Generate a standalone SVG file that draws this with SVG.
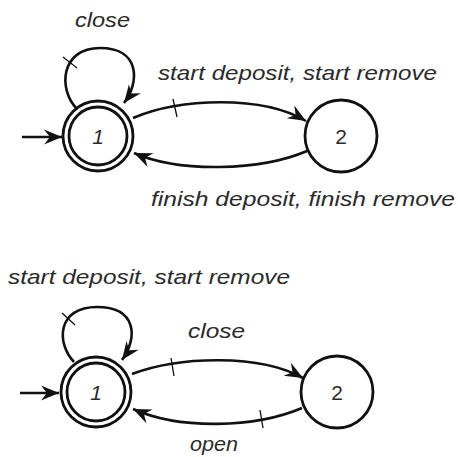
<svg xmlns="http://www.w3.org/2000/svg" width="458" height="457" viewBox="0 0 458 457">
  <style>
    .state { fill: #ffffff; stroke: #111111; stroke-width: 2.8; }
    .edge { fill: none; stroke: #111111; stroke-width: 2.6; }
    .tick { fill: none; stroke: #111111; stroke-width: 1.3; }
    .lbl { font-family: "Liberation Sans", Arial, sans-serif; font-style: italic; font-size: 21px; fill: #2a2a2a; }
    .num { font-family: "Liberation Sans", Arial, sans-serif; font-size: 21px; fill: #2a2a2a; text-anchor: middle; }
  </style>
  <defs>
    <marker id="arrow" markerUnits="userSpaceOnUse" markerWidth="22" markerHeight="18" viewBox="-19 -9 22 18" refX="0" refY="0" orient="auto">
      <path d="M0,0 L-18,-7.5 L-12,0 L-18,7.5 z" fill="#111111"/>
    </marker>
  </defs>

  <rect width="458" height="457" fill="#ffffff"/>

  <!-- upper automaton -->
  <g id="edges-top">
    <path class="edge" d="M22,137 L62,137" marker-end="url(#arrow)"/>
    <path class="edge" d="M77,109 C58,90 60,48 100,48 C140,48 140,82 124,103" marker-end="url(#arrow)"/>
    <path class="tick" d="M63,57 L77,68"/>
    <path class="edge" d="M133,118 C180,98 262,95 306,121" marker-end="url(#arrow)"/>
    <path class="tick" d="M173,99 L177,117"/>
    <path class="edge" d="M307,151 C260,171 180,173 134,153" marker-end="url(#arrow)"/>
  </g>
  <g id="t-s1">
    <circle class="state" cx="98" cy="136" r="35"/>
    <circle class="state" cx="98" cy="136" r="29"/>
    <text class="num" x="98" y="144" font-style="italic">1</text>
  </g>
  <g id="t-s2">
    <circle class="state" cx="341" cy="136" r="36"/>
    <text class="num" x="341" y="144">2</text>
  </g>
  <g id="labels-top">
    <text class="lbl" x="75" y="27" textLength="55" lengthAdjust="spacingAndGlyphs">close</text>
    <text class="lbl" x="158" y="80" textLength="279" lengthAdjust="spacingAndGlyphs">start deposit, start remove</text>
    <text class="lbl" x="151" y="206" textLength="304" lengthAdjust="spacingAndGlyphs">finish deposit, finish remove</text>
  </g>

  <!-- lower automaton -->
  <g id="edges-bottom">
    <path class="edge" d="M20,393 L59,393" marker-end="url(#arrow)"/>
    <path class="edge" d="M74,362 C56,343 57,307 97,307 C137,307 138,338 122,360" marker-end="url(#arrow)"/>
    <path class="tick" d="M62,313 L75,325"/>
    <path class="edge" d="M132,374 C180,356 260,354 303,378" marker-end="url(#arrow)"/>
    <path class="tick" d="M171,358 L174,376"/>
    <path class="edge" d="M302,408 C255,428 180,430 133,409" marker-end="url(#arrow)"/>
    <path class="tick" d="M260,410 L263,428"/>
  </g>
  <g id="b-s1">
    <circle class="state" cx="96" cy="392" r="35"/>
    <circle class="state" cx="96" cy="392" r="29"/>
    <text class="num" x="96" y="400" font-style="italic">1</text>
  </g>
  <g id="b-s2">
    <circle class="state" cx="337" cy="392" r="36"/>
    <text class="num" x="337" y="400">2</text>
  </g>
  <g id="labels-bottom">
    <text class="lbl" x="8" y="284" textLength="282" lengthAdjust="spacingAndGlyphs">start deposit, start remove</text>
    <text class="lbl" x="188" y="338" textLength="57" lengthAdjust="spacingAndGlyphs">close</text>
    <text class="lbl" x="190" y="451" textLength="48" lengthAdjust="spacingAndGlyphs">open</text>
  </g>
</svg>
